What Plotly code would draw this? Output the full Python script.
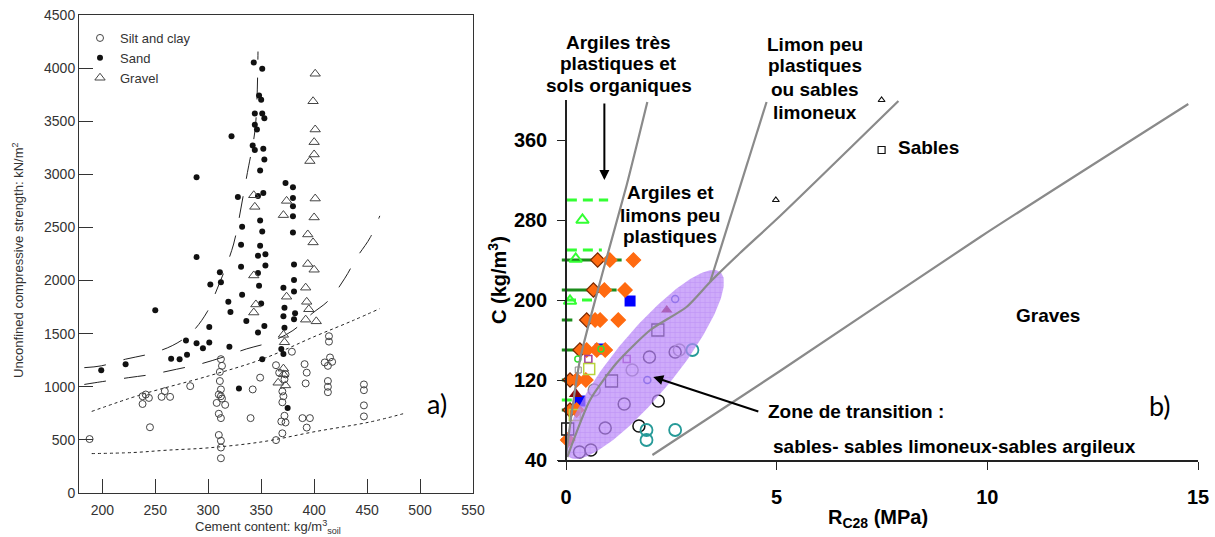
import numpy as np
import plotly.graph_objects as go

W, H = 1215, 537

# ---------------- panel a) : cement content vs. unconfined strength ----------------
silt_x = [188, 238, 238, 241, 244, 245, 259, 256, 264, 283, 312, 313, 311, 311, 312, 312, 310, 308, 313, 316,
          310, 312, 310, 312, 312, 312, 340, 342, 349, 364, 367, 373, 372, 370, 371, 370, 372, 369, 373, 370,
          364, 379, 391, 393, 392, 389, 396, 393, 414, 414, 410, 415, 413, 417, 413, 413, 413, 447, 447, 447, 447]
silt_y = [508, 911, 838, 927, 895, 619, 959, 905, 905, 1006, 1260, 1197, 1140, 1054, 975, 911, 927, 848, 889, 830,
          746, 705, 546, 492, 428, 327, 705, 975, 1086, 1203, 1133, 1117, 1070, 956, 911, 854, 727, 673, 664, 562,
          498, 1330, 1213, 1133, 1032, 705, 705, 616, 1476, 1425, 1229, 1276, 1197, 1235, 1054, 1000, 949, 1022, 968, 825, 721]

sand_x = [343, 351, 348, 350, 344, 351, 353, 344, 346, 322, 342, 344, 352, 353, 349, 289, 373, 380, 328, 347,
          352, 380, 380, 380, 349, 332, 351, 380, 331, 349, 289, 347, 354, 331, 354, 381, 311, 347, 302, 312,
          348, 371, 381, 381, 332, 319, 350, 372, 382, 321, 371, 381, 336, 301, 353, 347, 372, 279, 289, 301,
          295, 320, 369, 371, 280, 265, 273, 351, 250, 222, 199, 329, 375]
sand_y = [4053, 3994, 3741, 3703, 3572, 3572, 3528, 3466, 3422, 3359, 3272, 3228, 3240, 3140, 3037, 2972, 2919, 2878, 2787, 2797,
          2825, 2778, 2700, 2606, 2566, 2506, 2462, 2453, 2337, 2328, 2222, 2234, 2247, 2131, 2141, 2150, 2079, 2070, 1962, 1984,
          1952, 1933, 2006, 1898, 1867, 1800, 1784, 1743, 1692, 1705, 1663, 1635, 1619, 1562, 1571, 1511, 1556, 1435, 1409, 1416,
          1362, 1378, 1356, 1308, 1302, 1263, 1260, 1260, 1721, 1213, 1155, 984, 800]

gravel_x = [401, 399, 401, 400, 400, 396, 343, 344, 374, 371, 401, 400, 394, 399, 394, 400, 343, 345, 343, 374,
            392, 393, 395, 392, 402, 371, 372, 371, 371, 366, 373]
gravel_y = [3947, 3688, 3422, 3303, 3187, 3125, 2803, 2694, 2750, 2616, 2772, 2594, 2434, 2359, 2156, 2102, 2048, 1775, 1699, 1848,
            1933, 1800, 1730, 1632, 1616, 1489, 1419, 1171, 1117, 1038, 1013]

# envelope curves (long dashes)
env_hi_x = [183, 199, 222, 244, 266, 284, 299, 308, 316, 324, 329, 333, 337, 344, 346, 347]
env_hi_y = [1180, 1197, 1260, 1308, 1387, 1508, 1705, 1911, 2109, 2344, 2578, 2797, 3016, 3400, 3700, 4156]
env_lo_x = [183, 193, 225, 247, 270, 292, 313, 336, 358, 380, 398, 414, 429, 440, 453, 462]
env_lo_y = [1022, 1038, 1086, 1117, 1165, 1213, 1276, 1356, 1419, 1530, 1689, 1816, 2022, 2213, 2406, 2609]

# bounds of the silt and clay results (short dashes)
clay_hi_x = [190, 237, 300, 351, 401, 437, 462]
clay_hi_y = [768, 927, 1101, 1260, 1476, 1625, 1736]
clay_lo_x = [190, 229, 261, 300, 351, 401, 452, 484]
clay_lo_y = [371, 381, 403, 425, 482, 578, 667, 746]

a_xticks = [200, 250, 300, 350, 400, 450, 500, 550]
a_yticks = [0, 500, 1000, 1500, 2000, 2500, 3000, 3500, 4000, 4500]

# ---------------- panel b) : cement dosage vs. 28-day strength ----------------
# orange diamonds, grouped by dosage level
dia_x = [0.75, 1.04, 1.60, 0.65, 0.91, 1.40, 0.49, 0.69, 0.81, 1.24, 0.33, 0.49, 0.73, 0.93, 0.095, 0.25, 0.47, 0.095, 0.25, 0.04]
dia_y = [240, 240, 240, 210, 210, 210, 180, 180, 180, 180, 150, 150, 150, 150, 120, 120, 120, 90, 90, 60]
dia_dark = [1, 0, 0, 1, 0, 0, 1, 0, 0, 0, 1, 0, 0, 0, 1, 0, 0, 1, 0, 0]

# dark green ranges
dg_y = [240, 210, 180, 150, 120, 90, 60]
dg_x0 = [-0.10, -0.10, -0.10, -0.10, -0.10, -0.10, -0.12]
dg_x1 = [1.32, 1.20, 0.15, 0.33, 0.10, 0.05, 0.05]
# light green dashed ranges
lg_y = [300, 250, 200, 100]
lg_x0 = [0.02, 0.02, 0.0, -0.10]
lg_x1 = [1.00, 0.85, 0.69, 0.29]

gtri_x = [0.39, 0.23, 0.095]
gtri_y = [280, 241, 199]
bsq_x = [1.52, 0.81, 0.33]
bsq_y = [199, 151, 99]
red_tri_x = [0.23]
red_tri_y = [106]
red_tri2_x = [2.39]
red_tri2_y = [190]
gcirc_x = [0.28, 0.83]
gcirc_y = [141, 151]
msq_x = [0.53, 1.44]
msq_y = [141, 141]
graysq_x = [0.29]
graysq_y = [130]
ysq_x = [0.55, 0.21]
ysq_y = [131, 85]
ksq_x = [0.04, 1.08, 2.18]
ksq_y = [71, 119, 170]
kcirc_x = [0.32, 0.93, 1.38, 1.98, 2.59, 0.59, 2.19, 1.73]
kcirc_y = [48, 72, 96, 143, 148, 50, 99, 74]
gycirc_x = [0.67, 1.57, 2.69]
gycirc_y = [110, 130, 150]
teal_x = [1.91, 1.91, 2.59, 3.00]
teal_y = [70, 60, 70, 150]
bcirc_x = [1.93, 2.59]
bcirc_y = [120, 201]
far_tri_x = [4.98, 7.49]
far_tri_y = [300, 400]
far_sq_x = [7.49]
far_sq_y = [350]

# soil-class boundaries
bnd1_x = [0.0, 0.33, 0.885, 1.44, 1.93]
bnd1_y = [45, 140, 230, 315, 398]
bnd2_x = [3.42, 4.76]
bnd2_y = [218, 398]
bnd3_x = [0.03, 0.57, 1.2, 2.0, 2.86, 3.42, 4.13, 5.08, 7.89]
bnd3_y = [43, 100, 137, 170, 193, 218, 247, 284, 399]
bnd4_x = [2.05, 5.08, 9.83, 14.77]
bnd4_y = [45, 129, 263, 396]

b_xticks = [0, 5, 10, 15]
b_yticks = [40, 120, 200, 280, 360]

# transition zone: ellipse given by its long-axis ends and half width (screen px)
ell_end_a = (0.07, 43)
ell_end_b = (3.66, 228)
ell_half_width_px = 31

# ---------------- layout geometry ----------------
A_LEFT, A_RIGHT, A_TOP, A_BOTTOM = 79, 473, 15, 493
B_LEFT, B_RIGHT, B_TOP, B_BOTTOM = 557.6, 1198, 100, 460
B_YAXIS_X = 566
B_XRANGE = [-0.2, 15]
B_YRANGE = [40, 400]

def fx(p):
    return p / W

def fy(p):
    return 1 - p / H

fig = go.Figure()

line_col = "#222"
fig.add_trace(go.Scatter(x=env_hi_x, y=env_hi_y, mode="lines", line=dict(color=line_col, width=1, dash="22px,18px", shape="spline"), showlegend=False, hoverinfo="skip"))
fig.add_trace(go.Scatter(x=env_lo_x, y=env_lo_y, mode="lines", line=dict(color=line_col, width=1, dash="22px,18px", shape="spline"), showlegend=False, hoverinfo="skip"))
fig.add_trace(go.Scatter(x=clay_hi_x, y=clay_hi_y, mode="lines", line=dict(color=line_col, width=1, dash="3px,3px", shape="spline"), showlegend=False, hoverinfo="skip"))
fig.add_trace(go.Scatter(x=clay_lo_x, y=clay_lo_y, mode="lines", line=dict(color=line_col, width=1, dash="3px,3px", shape="spline"), showlegend=False, hoverinfo="skip"))

fig.add_trace(go.Scatter(x=silt_x, y=silt_y, mode="markers", name="Silt and clay",
                         marker=dict(symbol="circle-open", size=7, color="#444", line=dict(width=1))))
fig.add_trace(go.Scatter(x=sand_x, y=sand_y, mode="markers", name="Sand",
                         marker=dict(symbol="circle", size=6, color="#111")))
fig.add_trace(go.Scatter(x=gravel_x, y=gravel_y, mode="markers", name="Gravel",
                         marker=dict(symbol="triangle-up-open", size=9, color="#444", line=dict(width=1))))

# ---- panel b traces ----
def seg_trace(x0s, x1s, ys, color, width, dash):
    xs, yy = [], []
    for a, b, y in zip(x0s, x1s, ys):
        xs += [a, b, None]
        yy += [y, y, None]
    return go.Scatter(x=xs, y=yy, mode="lines", xaxis="x2", yaxis="y2",
                      line=dict(color=color, width=width, dash=dash), showlegend=False, hoverinfo="skip")

fig.add_trace(seg_trace(dg_x0, dg_x1, dg_y, "#1c8c1c", 3, "solid"))
fig.add_trace(seg_trace(lg_x0, lg_x1, lg_y, "#33ff33", 3, "10px,6px"))

def pts(x, y, symbol, size, color, lw=1.5, fill=None):
    mk = dict(symbol=symbol, size=size, color=fill if fill else color, line=dict(color=color, width=lw))
    return go.Scatter(x=x, y=y, mode="markers", xaxis="x2", yaxis="y2", marker=mk, cliponaxis=False,
                      showlegend=False, hoverinfo="skip")

fig.add_trace(pts(bsq_x, bsq_y, "square", 11, "#0000ff", 0, "#0000ff"))
dcol = ["#7a2800" if d else "#ff6a10" for d in dia_dark]
fig.add_trace(go.Scatter(x=dia_x, y=dia_y, mode="markers", xaxis="x2", yaxis="y2", showlegend=False, hoverinfo="skip",
                         marker=dict(symbol="diamond", size=11, color="#ff6a10", line=dict(color=dcol, width=1.2))))
fig.add_trace(pts(gtri_x, gtri_y, "triangle-up-open", 11, "#33ff33", 2))
fig.add_trace(pts(red_tri_x, red_tri_y, "triangle-up", 12, "#8b0a0a", 0, "#8b0a0a"))
fig.add_trace(pts(red_tri2_x, red_tri2_y, "triangle-up", 10, "#8b0a1a", 0, "#8b0a1a"))
fig.add_trace(pts(gcirc_x, gcirc_y, "circle-open", 6, "#33dd33", 1.5))
fig.add_trace(pts(msq_x, msq_y, "square-open", 7, "#a03ca0", 1.5))
fig.add_trace(pts(graysq_x, graysq_y, "square-open", 6, "#888", 1))
fig.add_trace(pts(ysq_x, ysq_y, "square-open", 11, "#b8d43c", 1.5))
fig.add_trace(pts(ksq_x, ksq_y, "square-open", 12, "#111", 1.3))
fig.add_trace(pts(kcirc_x, kcirc_y, "circle-open", 12, "#111", 1.5))
fig.add_trace(pts(gycirc_x, gycirc_y, "circle-open", 12, "#8a8a8a", 1.5))
fig.add_trace(pts(teal_x, teal_y, "circle-open", 12, "#269a98", 1.8))
fig.add_trace(pts(bcirc_x, bcirc_y, "circle-open", 7, "#3a50c8", 1.5))
fig.add_trace(pts(far_tri_x, far_tri_y, "triangle-up-open", 6, "#111", 1.2))
fig.add_trace(pts(far_sq_x, far_sq_y, "square-open", 7, "#111", 1.2))

# transition-zone ellipse, built in screen space then mapped to data units
kx = (B_RIGHT - B_LEFT) / (B_XRANGE[1] - B_XRANGE[0])
ky = (B_BOTTOM - B_TOP) / (B_YRANGE[1] - B_YRANGE[0])
pa = np.array([ell_end_a[0] * kx, ell_end_a[1] * ky])
pb = np.array([ell_end_b[0] * kx, ell_end_b[1] * ky])
c = (pa + pb) / 2
u = (pb - pa) / 2
a_len = np.linalg.norm(u)
u = u / a_len
v = np.array([-u[1], u[0]])
t = np.linspace(0, 2 * np.pi, 200)
e = c[:, None] + np.outer(u, np.cos(t)) * a_len + np.outer(v, np.sin(t)) * ell_half_width_px
fig.add_trace(go.Scatter(x=e[0] / kx, y=e[1] / ky, mode="lines", xaxis="x2", yaxis="y2", fill="toself",
                         line=dict(width=0, color="rgba(0,0,0,0)"),
                         fillpattern=dict(shape="+", bgcolor="rgba(185,135,248,0.7)", fgcolor="rgba(155,95,238,0.55)",
                                          size=5, solidity=0.25),
                         showlegend=False, hoverinfo="skip"))

for bx, by in [(bnd1_x, bnd1_y), (bnd2_x, bnd2_y), (bnd3_x, bnd3_y), (bnd4_x, bnd4_y)]:
    fig.add_trace(go.Scatter(x=bx, y=by, mode="lines", xaxis="x2", yaxis="y2",
                             line=dict(color="#8a8a8a", width=2.2, shape="spline", smoothing=0.6),
                             showlegend=False, hoverinfo="skip"))

# ---------------- axes ----------------
a_font = dict(family="Arial, Liberation Sans", size=14, color="#333")
b_font = dict(family="Arial, Liberation Sans", size=20, color="#000", weight="bold")

fig.update_layout(
    width=W, height=H, margin=dict(l=0, r=0, t=0, b=0, autoexpand=False),
    paper_bgcolor="white", plot_bgcolor="white",
    xaxis=dict(domain=[fx(A_LEFT), fx(A_RIGHT)], range=[178, 550], tickvals=a_xticks, ticks="inside", ticklen=14,
               tickcolor="#333", showline=True, linecolor="#333", mirror=True, showgrid=False, zeroline=False,
               tickfont=a_font, anchor="y", ticklabelstandoff=4, automargin=False),
    yaxis=dict(domain=[fy(A_BOTTOM), fy(A_TOP)], range=[0, 4500], tickvals=a_yticks, ticks="inside", ticklen=14,
               tickcolor="#333", showline=True, linecolor="#333", mirror=True, showgrid=False, zeroline=False,
               tickfont=a_font, anchor="x", automargin=False),
    xaxis2=dict(domain=[fx(B_LEFT), fx(B_RIGHT)], range=B_XRANGE, tickvals=b_xticks, ticks="outside", ticklen=8,
                tickcolor="#222", showline=True, linecolor="#222", linewidth=1.5, showgrid=False, zeroline=False,
                tickfont=b_font, anchor="y2", ticklabelstandoff=10, automargin=False),
    yaxis2=dict(domain=[fy(B_BOTTOM), fy(B_TOP)], range=B_YRANGE, tickvals=b_yticks, ticks="outside", ticklen=8,
                tickcolor="#222", showline=True, linecolor="#222", linewidth=1.5, showgrid=False, zeroline=False,
                tickfont=b_font, anchor="free", position=fx(B_YAXIS_X), ticklabelstandoff=6, automargin=False),
    legend=dict(x=fx(80), y=fy(23), xanchor="left", yanchor="top", bgcolor="rgba(0,0,0,0)",
                font=dict(family="Arial, Liberation Sans", size=13, color="#333"), itemwidth=30, tracegroupgap=0),
)

def note(text, px, py, size=19, bold=True, xanchor="center", angle=0, color="#000", family="Arial, Liberation Sans"):
    fig.add_annotation(x=fx(px), y=fy(py), xref="paper", yref="paper", text=text, showarrow=False,
                       xanchor=xanchor, yanchor="middle", textangle=angle,
                       font=dict(family=family, size=size, color=color, weight="bold" if bold else "normal"))

def block(lines, px, ys):
    for s, yy in zip(lines, ys):
        note(s, px, yy)

# axis titles
note("Unconfined compressive strength: kN/m<sup>2</sup>", 18, 260, size=13, bold=False, angle=-90, color="#333")
note("Cement content: kg/m<sup>3</sup><sub>soil</sub>", 268, 527, size=13, bold=False, color="#333")
note("C (kg/m<sup>3</sup>)", 497, 280, size=20, angle=-90)
note("R<sub>C28</sub> (MPa)", 878, 518, size=20)

# panel labels
note("a)", 437, 403, size=27, bold=False, family="Lato, Open Sans, Arial")
note("b)", 1160, 405, size=27, bold=False, family="Lato, Open Sans, Arial")

# soil class labels
block(["Argiles très", "plastiques et", "sols organiques"], 619, [42, 64, 86])
block(["Limon peu", "plastiques", "ou sables", "limoneux"], 815, [44, 66, 89, 112])
block(["Argiles et", "limons peu", "plastiques"], 670, [192, 215, 237])
note("Sables", 928, 148)
note("Graves", 1048, 315)
note("Zone de transition :", 766, 411, xanchor="left")
note("sables- sables limoneux-sables argileux", 771, 446, xanchor="left")

# arrows
fig.add_annotation(x=0.91, y=320, ax=0.91, ay=398, xref="x2", yref="y2", axref="x2", ayref="y2",
                   showarrow=True, arrowhead=2, arrowsize=1, arrowwidth=2, arrowcolor="#000", text="")
fig.add_annotation(x=2.07, y=123, ax=4.6, ay=88, xref="x2", yref="y2", axref="x2", ayref="y2",
                   showarrow=True, arrowhead=2, arrowsize=1, arrowwidth=2, arrowcolor="#000", text="")

fig.write_html("out.html")
